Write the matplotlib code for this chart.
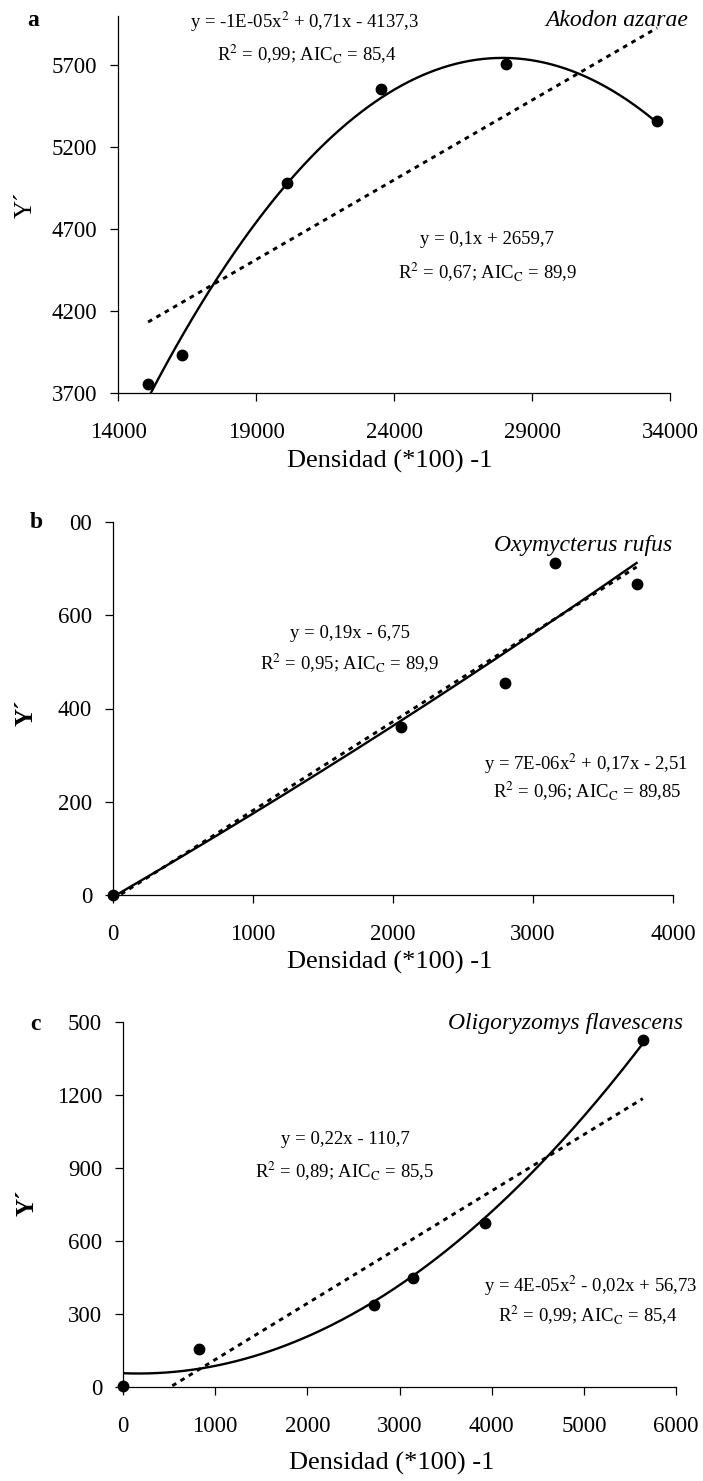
import numpy as np
import matplotlib
matplotlib.use("Agg")
import matplotlib.pyplot as plt

plt.rcParams['font.family'] = ['Liberation Serif', 'DejaVu Serif']
plt.rcParams['mathtext.fontset'] = 'stix'

# ---- data ----
a_x = [15090, 16320, 20110, 23530, 28070, 33530]
a_y = [3754, 3929, 4983, 5555, 5706, 5357]
b_x = [0, 2060, 2800, 3160, 3740]
b_y = [0, 360, 455, 713, 667]
c_x = [0, 824, 2722, 3145, 3926, 5640]
c_y = [5, 156, 337, 448, 674, 1426]

a_yticks = [3700, 4200, 4700, 5200, 5700]
a_xticks = [14000, 19000, 24000, 29000, 34000]
b_yticks = [0, 200, 400, 600, 800]
b_ylabels = ['0', '200', '400', '600', '00']
b_xticks = [0, 1000, 2000, 3000, 4000]
c_yticks = [0, 300, 600, 900, 1200, 1500]
c_ylabels = ['0', '300', '600', '900', '1200', '500']
c_xticks = [0, 1000, 2000, 3000, 4000, 5000, 6000]

W, H = 703, 1481
fig = plt.figure(figsize=(W / 100, H / 100), dpi=100)


def px_axes(l, r, t, b):
    return fig.add_axes([l / W, 1 - b / H, (r - l) / W, (b - t) / H])


def ftext(x, y, s, **kw):
    fig.text(x / W, 1 - y / H, s, **kw)


def panel(ax, x, y, xlim, ylim, xticks, yticks, ylabels):
    ax.plot(x, y, 'o', color='black', ms=7.5, zorder=5, clip_on=False)
    xs = np.linspace(min(x), max(x), 300)
    q = np.polyfit(x, y, 2)
    l = np.polyfit(x, y, 1)
    ax.plot(xs, np.polyval(q, xs), color='black', lw=1.7)
    ax.plot(xs, np.polyval(l, xs), color='black', lw=2.1, ls=(0, (1.6, 1.7)))
    ax.set_xlim(xlim)
    ax.set_ylim(ylim)
    ax.set_xticks(xticks)
    ax.set_xticklabels([str(v) for v in xticks])
    ax.set_yticks(yticks)
    ax.set_yticklabels(ylabels)
    for s in ['top', 'right']:
        ax.spines[s].set_visible(False)
    for s in ['left', 'bottom']:
        ax.spines[s].set_linewidth(0.9)
    ax.tick_params(direction='out', length=6, width=0.9, labelsize=16.5)
    ax.tick_params(axis='x', pad=15)
    ax.tick_params(axis='y', pad=9)


ax1 = px_axes(118, 670, 16, 393)
panel(ax1, a_x, a_y, (14000, 34000), (3700, 6000), a_xticks, a_yticks,
      [str(v) for v in a_yticks])
ax2 = px_axes(113, 673, 522, 895)
panel(ax2, b_x, b_y, (0, 4000), (0, 800), b_xticks, b_yticks, b_ylabels)
ax3 = px_axes(123, 676, 1022, 1387)
panel(ax3, c_x, c_y, (0, 6000), (0, 1500), c_xticks, c_yticks, c_ylabels)

eq = dict(fontsize=13.5, ha='center', va='center')
sp = dict(fontsize=17, ha='right', va='center', style='italic')
lab = dict(fontsize=17, ha='left', va='center', fontweight='bold')
xl = dict(fontsize=19, ha='center', va='center')
yl = dict(fontsize=18, ha='center', va='center', rotation=90)

# panel a
ftext(27, 20, 'a', **lab)
ftext(26, 205, "Y´", **yl)
ftext(390, 461, 'Densidad (*100) -1', **xl)
ftext(688, 20, 'Akodon azarae', **sp)
ftext(305, 22, r'y = -1E-05x$^2$ + 0,71x - 4137,3', **eq)
ftext(307, 54, r'R$^2$ = 0,99; AIC$_\mathrm{C}$ = 85,4', **eq)
ftext(487, 240, 'y = 0,1x + 2659,7', **eq)
ftext(488, 272, r'R$^2$ = 0,67; AIC$_\mathrm{C}$ = 89,9', **eq)

# panel b
ftext(30, 523, 'b', **lab)
ftext(26, 713, "Y´", fontweight='bold', **yl)
ftext(390, 962, 'Densidad (*100) -1', **xl)
ftext(672, 545, 'Oxymycterus rufus', **sp)
ftext(350, 634, 'y = 0,19x - 6,75', **eq)
ftext(350, 663, r'R$^2$ = 0,95; AIC$_\mathrm{C}$ = 89,9', **eq)
ftext(586, 764, r'y = 7E-06x$^2$ + 0,17x - 2,51', **eq)
ftext(587, 791, r'R$^2$ = 0,96; AIC$_\mathrm{C}$ = 89,85', **eq)

# panel c
ftext(30, 1025, 'c', **lab)
ftext(27, 1203, "Y´", fontweight='bold', **yl)
ftext(392, 1463, 'Densidad (*100) -1', **xl)
ftext(683, 1024, 'Oligoryzomys flavescens', **sp)
ftext(345, 1140, 'y = 0,22x - 110,7', **eq)
ftext(345, 1171, r'R$^2$ = 0,89; AIC$_\mathrm{C}$ = 85,5', **eq)
ftext(591, 1286, r'y = 4E-05x$^2$ - 0,02x + 56,73', **eq)
ftext(588, 1315, r'R$^2$ = 0,99; AIC$_\mathrm{C}$ = 85,4', **eq)

fig.savefig('out.png', dpi=100)
